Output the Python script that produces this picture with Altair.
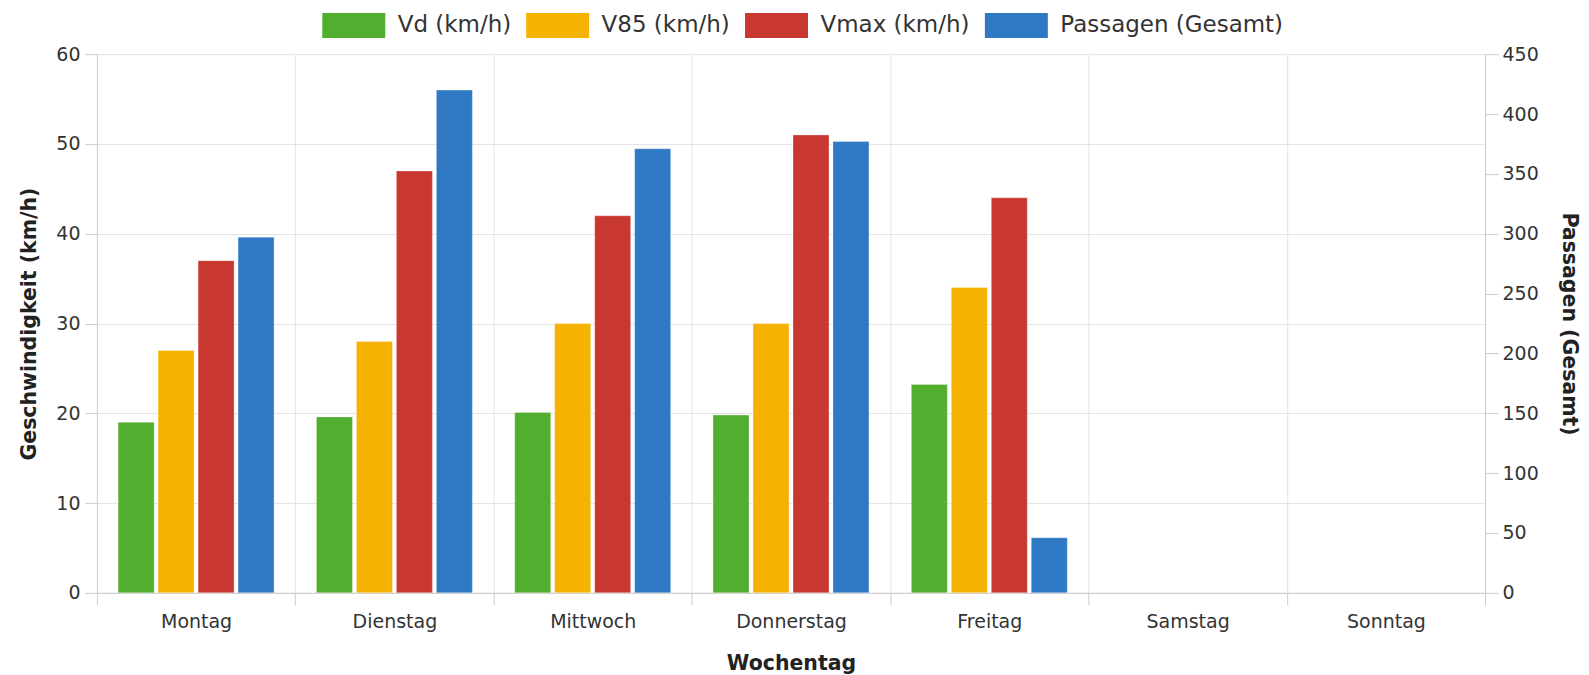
import altair as alt
import pandas as pd

days = ["Montag", "Dienstag", "Mittwoch", "Donnerstag", "Freitag", "Samstag", "Sonntag"]
series = ["Vd (km/h)", "V85 (km/h)", "Vmax (km/h)", "Passagen (Gesamt)"]
colors = ["#52AE2E", "#F6B200", "#C83730", "#2E78C4"]

vd = [19.0, 19.6, 20.1, 19.8, 23.2, None, None]
v85 = [27, 28, 30, 30, 34, None, None]
vmax = [37, 47, 42, 51, 44, None, None]
passagen = [297, 420, 371, 377, 46, None, None]

left_ticks = [0, 10, 20, 30, 40, 50, 60]
right_ticks = [0, 50, 100, 150, 200, 250, 300, 350, 400, 450]

rows = []
for i, d in enumerate(days):
    for s, vals in zip(series, [vd, v85, vmax, passagen]):
        rows.append({"day": d, "series": s, "value": vals[i]})
df = pd.DataFrame(rows)

FONT = "DejaVu Sans"

x = alt.X(
    "day:N",
    sort=days,
    scale=alt.Scale(domain=days, paddingInner=0, paddingOuter=0),
    axis=alt.Axis(
        title="Wochentag",
        labelAngle=0,
        tickBand="extent",
        grid=True,
        tickSize=12,
        labelPadding=8,
        titlePadding=22,
    ),
)
xoff = alt.XOffset(
    "series:N",
    sort=series,
    scale=alt.Scale(domain=series, paddingInner=0.1, paddingOuter=0.53),
)
color = alt.Color(
    "series:N",
    sort=series,
    scale=alt.Scale(domain=series, range=colors),
    legend=alt.Legend(
        title=None,
        orient="none",
        direction="horizontal",
        legendX=242,
        legendY=-44,
        symbolType="M-2.1,-0.83H2.1V0.83H-2.1Z",
        symbolSize=900,
        symbolStrokeWidth=0,
        symbolOpacity=1,
        labelFontSize=23,
        labelFont=FONT,
        labelColor="#333333",
        labelOffset=29,
        labelLimit=400,
        columnPadding=14,
    ),
)

base = alt.Chart(df)

left = base.transform_filter(alt.datum.series != "Passagen (Gesamt)").mark_bar(
    stroke="white", strokeOpacity=0.3, strokeWidth=1
).encode(
    x=x,
    xOffset=xoff,
    color=color,
    y=alt.Y(
        "value:Q",
        scale=alt.Scale(domain=[0, 60], nice=False),
        axis=alt.Axis(
            title="Geschwindigkeit (km/h)",
            values=left_ticks,
            tickSize=12,
            labelPadding=5,
            titlePadding=16,
        ),
    ),
)

right = base.transform_filter(alt.datum.series == "Passagen (Gesamt)").mark_bar(
    stroke="white", strokeOpacity=0.3, strokeWidth=1
).encode(
    x=x,
    xOffset=xoff,
    color=color,
    y=alt.Y(
        "value:Q",
        scale=alt.Scale(domain=[0, 450], nice=False),
        axis=alt.Axis(
            title="Passagen (Gesamt)",
            orient="right",
            values=right_ticks,
            grid=False,
            tickSize=13,
            labelPadding=4,
            titlePadding=20,
        ),
    ),
)

chart = (
    alt.layer(left, right)
    .resolve_scale(y="independent")
    .properties(
        width=1389,
        height=539,
        padding={"left": 11, "top": 2, "right": 2, "bottom": 5},
    )
    .configure_view(stroke=None)
    .configure_axis(
        labelFont=FONT,
        labelFontSize=19,
        labelColor="#333333",
        titleFont=FONT,
        titleFontSize=20.5,
        titleFontWeight="bold",
        titleColor="#222222",
        gridColor="#e3e3e3",
        domainColor="#cccccc",
        tickColor="#cccccc",
    )
)

chart.save("out.html", embed_options={"renderer": "svg", "actions": False})
